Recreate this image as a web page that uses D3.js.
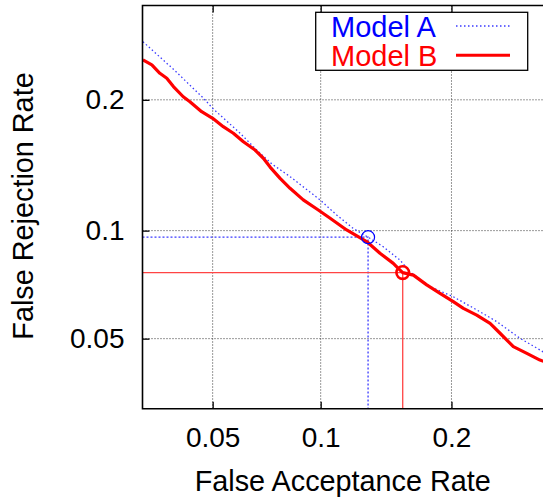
<!DOCTYPE html>
<html>
<head>
<meta charset="utf-8">
<script src="https://cdn.jsdelivr.net/npm/d3@7"></script>
<style>
  html, body { margin: 0; padding: 0; background: #fff; }
  svg text { font-family: "Liberation Sans", Arial, Helvetica, sans-serif; }
</style>
</head>
<body>
<svg id="chart" width="543" height="497"></svg>
<script>
// ---------------- data ----------------
const seriesNames = ["Model A", "Model B"];
const seriesColors = ["#0000ff", "#ff0000"];
const farTicks = [0.05, 0.1, 0.2];
const frrTicks = [0.05, 0.1, 0.2];
const axisDomain = [0.03, 0.3];

const modelA_far = [0.0301, 0.0378, 0.0469, 0.0500, 0.0603, 0.0665, 0.0741, 0.0831, 0.0996, 0.1098, 0.1207, 0.1309, 0.1421, 0.1551, 0.1633, 0.1804, 0.2017, 0.2246, 0.2453, 0.2706, 0.2932, 0.300];
const modelA_frr = [0.2591, 0.2300, 0.2015, 0.1921, 0.1700, 0.1575, 0.1452, 0.1357, 0.1194, 0.1095, 0.1012, 0.0962, 0.0908, 0.0837, 0.0778, 0.0708, 0.0663, 0.0608, 0.0562, 0.0501, 0.0462, 0.0450];

const modelB_far = [0.0301, 0.0322, 0.0342, 0.0360, 0.0378, 0.0406, 0.0426, 0.0463, 0.0500, 0.0538, 0.0576, 0.0616, 0.0665, 0.0702, 0.0733, 0.0781, 0.0831, 0.0901, 0.0986, 0.1057, 0.1162, 0.1299, 0.1396, 0.1498, 0.1537, 0.1573, 0.1661, 0.1775, 0.1894, 0.2017, 0.2114, 0.2246, 0.2383, 0.2488, 0.2632, 0.2782, 0.2932, 0.300];
const modelB_frr = [0.2396, 0.2344, 0.2259, 0.2209, 0.2127, 0.2029, 0.1982, 0.1890, 0.1831, 0.1757, 0.1700, 0.1629, 0.1561, 0.1496, 0.1428, 0.1344, 0.1273, 0.1194, 0.1127, 0.1075, 0.1004, 0.0937, 0.0873, 0.0820, 0.0795, 0.0774, 0.0762, 0.0716, 0.0678, 0.0642, 0.0614, 0.0587, 0.0555, 0.0519, 0.0473, 0.0451, 0.0430, 0.0424];

// operating points [FAR, FRR]
const opA = [0.1309, 0.0962];
const opB = [0.1573, 0.0774];

const xTitle = "False Acceptance Rate";
const yTitle = "False Rejection Rate";

// ---------------- helpers ----------------
// inverse standard normal CDF (Acklam)
function probit(p) {
  const a = [-3.969683028665376e+01, 2.209460984245205e+02, -2.759285104469687e+02, 1.383577518672690e+02, -3.066479806614716e+01, 2.506628277459239e+00];
  const b = [-5.447609879822406e+01, 1.615858368580409e+02, -1.556989798598866e+02, 6.680131188771972e+01, -1.328068155288572e+01];
  const c = [-7.784894002430293e-03, -3.223964580411365e-01, -2.400758277161838e+00, -2.549732539343734e+00, 4.374664141464968e+00, 2.938163982698783e+00];
  const d = [7.784695709041462e-03, 3.224671290700398e-01, 2.445134137142996e+00, 3.754408661907416e+00];
  const pl = 0.02425, ph = 1 - pl;
  let q, r;
  if (p < pl) {
    q = Math.sqrt(-2 * Math.log(p));
    return (((((c[0]*q+c[1])*q+c[2])*q+c[3])*q+c[4])*q+c[5]) / ((((d[0]*q+d[1])*q+d[2])*q+d[3])*q+1);
  } else if (p <= ph) {
    q = p - 0.5; r = q * q;
    return (((((a[0]*r+a[1])*r+a[2])*r+a[3])*r+a[4])*r+a[5])*q / (((((b[0]*r+b[1])*r+b[2])*r+b[3])*r+b[4])*r+1);
  } else {
    q = Math.sqrt(-2 * Math.log(1 - p));
    return -(((((c[0]*q+c[1])*q+c[2])*q+c[3])*q+c[4])*q+c[5]) / ((((d[0]*q+d[1])*q+d[2])*q+d[3])*q+1);
  }
}

// ---------------- layout ----------------
const svg = d3.select("#chart");
const pLeft = 142.5, pTop = 5.5, pSize = 403.3;
const pRight = pLeft + pSize, pBottom = pTop + pSize;

const xLin = d3.scaleLinear().domain(axisDomain.map(probit)).range([pLeft, pRight]);
const yLin = d3.scaleLinear().domain(axisDomain.map(probit)).range([pBottom, pTop]);
const X = p => xLin(probit(p));
const Y = p => yLin(probit(p));

// grid
const grid = svg.append("g");
grid.selectAll("line.gx").data(farTicks).join("line")
  .attr("x1", d => X(d)).attr("x2", d => X(d))
  .attr("y1", pTop).attr("y2", pBottom)
  .attr("stroke", "#333").attr("stroke-width", 1).attr("stroke-dasharray", "1,2");
grid.selectAll("line.gy").data(frrTicks).join("line")
  .attr("y1", d => Y(d)).attr("y2", d => Y(d))
  .attr("x1", pLeft).attr("x2", pRight)
  .attr("stroke", "#333").attr("stroke-width", 1).attr("stroke-dasharray", "1,2");

// axes with inward ticks
const xAxis = d3.axisBottom(xLin).tickValues(farTicks.map(probit)).tickSize(-7).tickPadding(18)
  .tickFormat((d, i) => String(farTicks[i]));
const yAxis = d3.axisLeft(yLin).tickValues(frrTicks.map(probit)).tickSize(-7).tickPadding(18)
  .tickFormat((d, i) => String(frrTicks[i]));
const xTopAxis = d3.axisTop(xLin).tickValues(farTicks.map(probit)).tickSize(-7).tickFormat("");

function styleAxis(g) {
  g.select(".domain").remove();
  g.selectAll(".tick line").attr("stroke", "#000").attr("stroke-width", 1.3);
  g.selectAll(".tick text").attr("font-size", 28).attr("fill", "#000")
    .attr("font-family", "'Liberation Sans', Arial, sans-serif");
}
svg.append("g").attr("transform", `translate(0,${pBottom})`).call(xAxis).call(styleAxis);
svg.append("g").attr("transform", `translate(${pLeft},0)`).call(yAxis).call(styleAxis);
svg.append("g").attr("transform", `translate(0,${pTop})`).call(xTopAxis).call(styleAxis);

// operating point drop lines
svg.append("path")
  .attr("d", `M${pLeft},${Y(opA[1])}H${X(opA[0])}V${pBottom}`)
  .attr("fill", "none").attr("stroke", "#3a3aff").attr("stroke-width", 1.3).attr("stroke-dasharray", "2,2");
svg.append("path")
  .attr("d", `M${pLeft},${Y(opB[1])}H${X(opB[0])}V${pBottom}`)
  .attr("fill", "none").attr("stroke", "#ff4444").attr("stroke-width", 1.3);

// curves
const line = d3.line().x(d => X(d[0])).y(d => Y(d[1]));
const dataA = modelA_far.map((f, i) => [f, modelA_frr[i]]);
const dataB = modelB_far.map((f, i) => [f, modelB_frr[i]]);

svg.append("defs").append("clipPath").attr("id", "clip")
  .append("rect").attr("x", pLeft).attr("y", pTop).attr("width", pSize).attr("height", pSize);

svg.append("path").datum(dataA).attr("d", line).attr("clip-path", "url(#clip)")
  .attr("fill", "none").attr("stroke", "#3a3aff").attr("stroke-width", 1.3).attr("stroke-dasharray", "1.5,2.5");
svg.append("path").datum(dataB).attr("d", line).attr("clip-path", "url(#clip)")
  .attr("fill", "none").attr("stroke", "#ff0000").attr("stroke-width", 3.2).attr("stroke-linejoin", "round");

// operating point circles
svg.append("circle").attr("cx", X(opA[0])).attr("cy", Y(opA[1])).attr("r", 6.5)
  .attr("fill", "none").attr("stroke", "#0000ff").attr("stroke-width", 1.2);
svg.append("circle").attr("cx", X(opB[0])).attr("cy", Y(opB[1])).attr("r", 6.3)
  .attr("fill", "none").attr("stroke", "#ff0000").attr("stroke-width", 2.6);

// frame
svg.append("path")
  .attr("d", `M${pRight},${pTop}H${pLeft}V${pBottom}H${pRight}`)
  .attr("fill", "none").attr("stroke", "#000").attr("stroke-width", 1.6);

// legend
const lg = svg.append("g");
lg.append("rect").attr("x", 315.7).attr("y", 12.3).attr("width", 212).attr("height", 58)
  .attr("fill", "#fff").attr("stroke", "#000").attr("stroke-width", 1.3);
const legendRows = [
  { name: seriesNames[0], color: seriesColors[0], stroke: "#3a3aff", dash: "1.5,2.5", w: 1.3, y: 26 },
  { name: seriesNames[1], color: seriesColors[1], stroke: "#ff0000", dash: null, w: 3, y: 55.3 }
];
legendRows.forEach(r => {
  lg.append("text").attr("x", 331).attr("y", r.y + 10.5).attr("font-size", 29)
    .attr("fill", r.color).text(r.name);
  lg.append("line").attr("x1", 456).attr("x2", 510).attr("y1", r.y).attr("y2", r.y)
    .attr("stroke", r.stroke).attr("stroke-width", r.w)
    .attr("stroke-dasharray", r.dash);
});

// titles
svg.append("text").attr("x", 342.8).attr("y", 491).attr("text-anchor", "middle")
  .attr("font-size", 28.8).attr("fill", "#000").text(xTitle);
svg.append("text").attr("transform", "translate(33,206) rotate(-90)").attr("text-anchor", "middle")
  .attr("font-size", 28.8).attr("fill", "#000").text(yTitle);
</script>
</body>
</html>
